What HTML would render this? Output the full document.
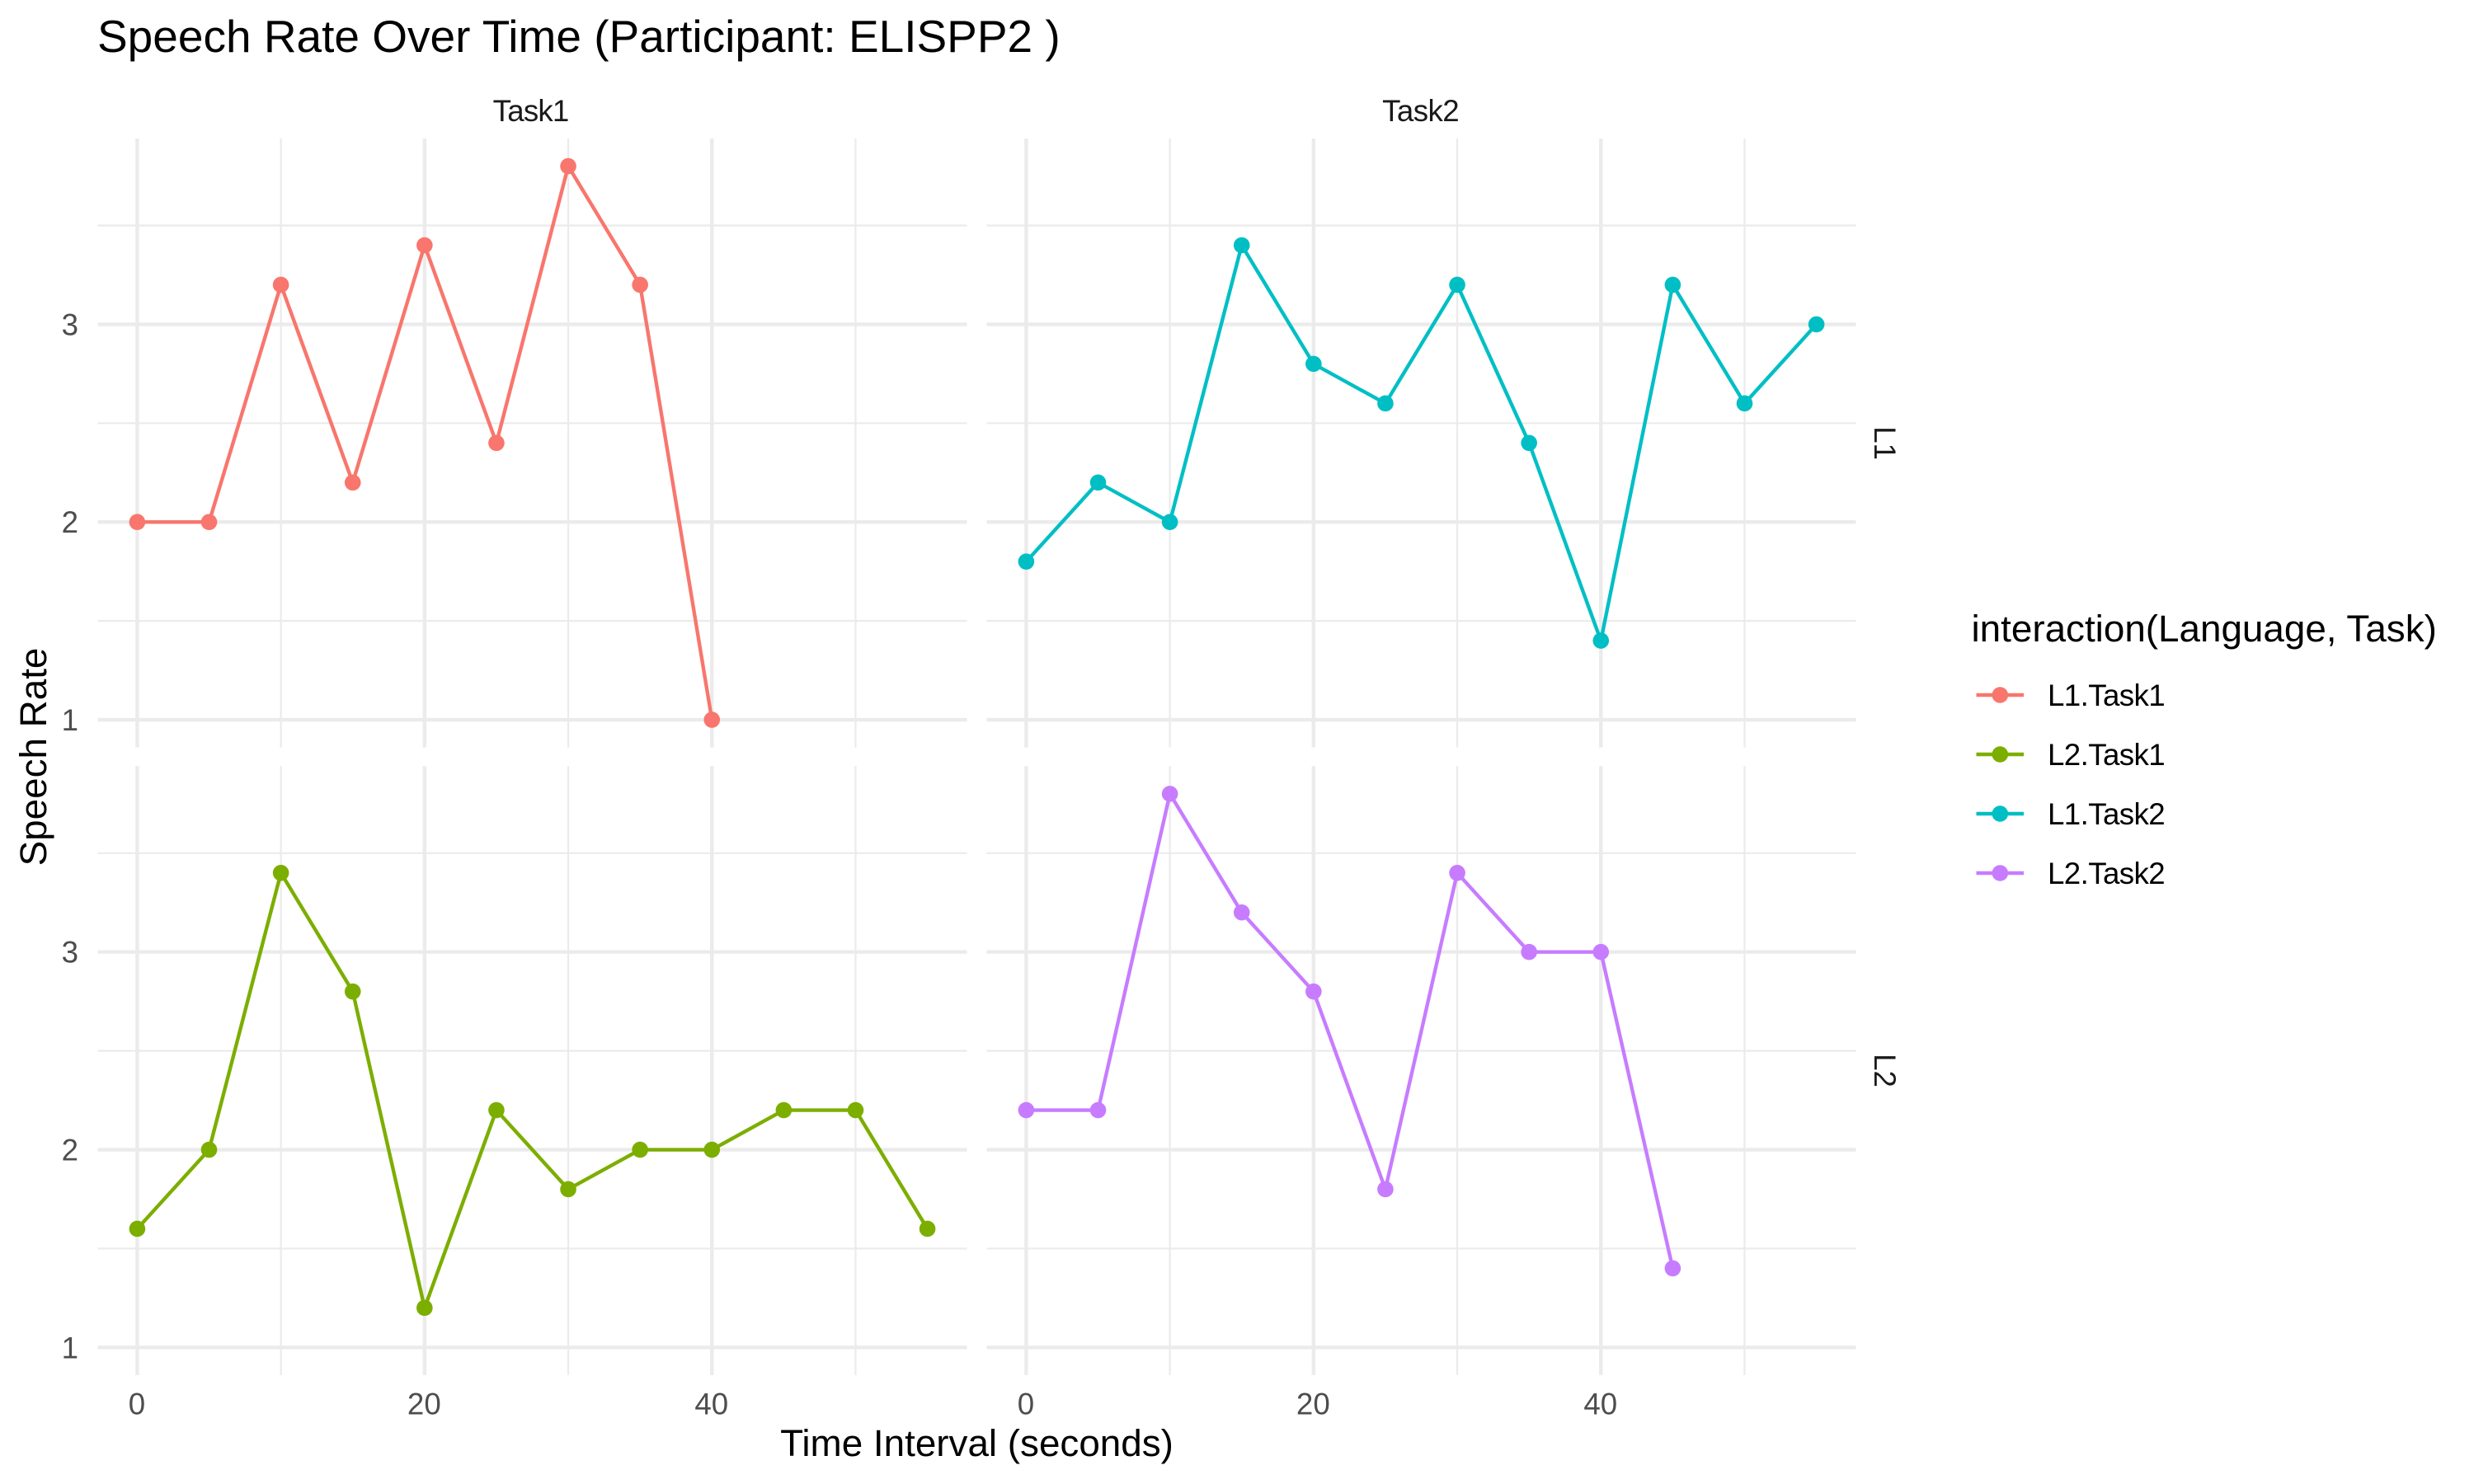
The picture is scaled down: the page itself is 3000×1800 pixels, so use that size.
<!DOCTYPE html>
<html lang="en">
<head>
<meta charset="utf-8">
<title>Speech Rate Over Time</title>
<style>
html,body{margin:0;padding:0;background:#fff;}
body{width:3000px;height:1800px;overflow:hidden;}
svg{display:block;}
text{font-family:"Liberation Sans",Arial,sans-serif;}
</style>
</head>
<body>
<svg id="chart" xmlns="http://www.w3.org/2000/svg" width="3000" height="1800" viewBox="0 0 3000 1800">
  <rect x="0" y="0" width="3000" height="1800" fill="#ffffff"/>
  <text x="118" y="63" font-size="55" fill="#000">Speech Rate Over Time (Participant: ELISPP2 )</text>
  <text x="643.6" y="147" font-size="36.7" letter-spacing="-0.8" fill="#1A1A1A" text-anchor="middle">Task1</text>
  <text x="1722.6" y="147" font-size="36.7" letter-spacing="-0.6" fill="#1A1A1A" text-anchor="middle">Task2</text>
  <text transform="translate(2273 537.5) rotate(90)" font-size="36.7" fill="#1A1A1A" text-anchor="middle">L1</text>
  <text transform="translate(2273 1298.5) rotate(90)" font-size="36.7" fill="#1A1A1A" text-anchor="middle">L2</text>
  <text x="1184.5" y="1766" font-size="45.8" fill="#000" text-anchor="middle">Time Interval (seconds)</text>
  <text transform="translate(56 918) rotate(-90)" font-size="45.8" fill="#000" text-anchor="middle">Speech Rate</text>
  <text x="2390.5" y="778" font-size="45.8" fill="#000">interaction(Language, Task)</text>
  <g id="panels"></g>
  <g id="legend"></g>
</svg>
<script>
// Data
const legendLabels = ['L1.Task1', 'L2.Task1', 'L1.Task2', 'L2.Task2'];
const seriesColors = ['#F8766D', '#7CAE00', '#00BFC4', '#C77CFF'];
const timeL1Task1 = [0, 5, 10, 15, 20, 25, 30, 35, 40];
const rateL1Task1 = [2, 2, 3.2, 2.2, 3.4, 2.4, 3.8, 3.2, 1];
const timeL2Task1 = [0, 5, 10, 15, 20, 25, 30, 35, 40, 45, 50, 55];
const rateL2Task1 = [1.6, 2, 3.4, 2.8, 1.2, 2.2, 1.8, 2, 2, 2.2, 2.2, 1.6];
const timeL1Task2 = [0, 5, 10, 15, 20, 25, 30, 35, 40, 45, 50, 55];
const rateL1Task2 = [1.8, 2.2, 2, 3.4, 2.8, 2.6, 3.2, 2.4, 1.4, 3.2, 2.6, 3];
const timeL2Task2 = [0, 5, 10, 15, 20, 25, 30, 35, 40, 45];
const rateL2Task2 = [2.2, 2.2, 3.8, 3.2, 2.8, 1.8, 3.4, 3, 3, 1.4];
const xMajorTicks = [0, 20, 40];
const xMinorTicks = [10, 30, 50];
const yMajorTicks = [1, 2, 3];
const yMinorTicks = [1.5, 2.5, 3.5];

const SVGNS = 'http://www.w3.org/2000/svg';
const X_DOMAIN = [-2.75, 57.75];
const Y_DOMAIN = [0.86, 3.94];
const PANEL_W = 1054;
const PANEL_H = 738.6;
const COL_LEFT = [118.5, 1196.5];
const ROW_TOP = [168, 929.3];
const panelDefs = [
  {key: 'l1-task1', col: 0, row: 0, series: 0, t: timeL1Task1, v: rateL1Task1},
  {key: 'l1-task2', col: 1, row: 0, series: 2, t: timeL1Task2, v: rateL1Task2},
  {key: 'l2-task1', col: 0, row: 1, series: 1, t: timeL2Task1, v: rateL2Task1},
  {key: 'l2-task2', col: 1, row: 1, series: 3, t: timeL2Task2, v: rateL2Task2}
];

function xScale(col, t) {
  return COL_LEFT[col] + (t - X_DOMAIN[0]) / (X_DOMAIN[1] - X_DOMAIN[0]) * PANEL_W;
}
function yScale(row, v) {
  return ROW_TOP[row] + PANEL_H - (v - Y_DOMAIN[0]) / (Y_DOMAIN[1] - Y_DOMAIN[0]) * PANEL_H;
}
function mk(tag, attrs, parent) {
  const node = document.createElementNS(SVGNS, tag);
  for (const k in attrs) node.setAttribute(k, attrs[k]);
  parent.appendChild(node);
  return node;
}

const panelsRoot = document.getElementById('panels');

panelDefs.forEach(function (p) {
  const g = mk('g', {}, panelsRoot);
  
  
  const left = COL_LEFT[p.col];
  const top = ROW_TOP[p.row];

  yMinorTicks.forEach(function (v) {
    const el = mk('line', {x1: left, x2: left + PANEL_W, y1: yScale(p.row, v), y2: yScale(p.row, v), stroke: '#EBEBEB', 'stroke-width': 2.2}, g);
    
    
  });
  xMinorTicks.forEach(function (t) {
    const el = mk('line', {x1: xScale(p.col, t), x2: xScale(p.col, t), y1: top, y2: top + PANEL_H, stroke: '#EBEBEB', 'stroke-width': 2.2}, g);
    
    
  });
  yMajorTicks.forEach(function (v) {
    const el = mk('line', {x1: left, x2: left + PANEL_W, y1: yScale(p.row, v), y2: yScale(p.row, v), stroke: '#EBEBEB', 'stroke-width': 4.4}, g);
    
    
  });
  xMajorTicks.forEach(function (t) {
    const el = mk('line', {x1: xScale(p.col, t), x2: xScale(p.col, t), y1: top, y2: top + PANEL_H, stroke: '#EBEBEB', 'stroke-width': 4.4}, g);
    
    
  });

  if (p.col === 0) {
    yMajorTicks.forEach(function (v) {
      const el = mk('text', {x: 95, y: yScale(p.row, v) + 13, 'font-size': 36.7, fill: '#4D4D4D', 'text-anchor': 'end'}, g);
      el.textContent = String(v);
      
      
    });
  }
  if (p.row === 1) {
    xMajorTicks.forEach(function (t) {
      const el = mk('text', {x: xScale(p.col, t) - 0.5, y: 1715.5, 'font-size': 36.7, fill: '#4D4D4D', 'text-anchor': 'middle'}, g);
      el.textContent = String(t);
      
      
    });
  }

  const pts = p.t.map(function (t, i) {
    return xScale(p.col, t).toFixed(2) + ',' + yScale(p.row, p.v[i]).toFixed(2);
  }).join(' ');
  const line = mk('polyline', {points: pts, fill: 'none', stroke: seriesColors[p.series], 'stroke-width': 4.4, 'stroke-linejoin': 'round', 'stroke-linecap': 'butt'}, g);
  
  

  p.t.forEach(function (t, i) {
    const dot = mk('circle', {cx: xScale(p.col, t), cy: yScale(p.row, p.v[i]), r: 9.8, fill: seriesColors[p.series]}, g);
    
    
  });
});

const legendRoot = document.getElementById('legend');
legendLabels.forEach(function (label, i) {
  const cy = 843 + i * 72;
  const entry = mk('g', {}, legendRoot);
  
  
  const keyLine = mk('line', {x1: 2396.5, x2: 2454, y1: cy, y2: cy, stroke: seriesColors[i], 'stroke-width': 4.4}, entry);
  
  
  const keyDot = mk('circle', {cx: 2425.3, cy: cy, r: 9.8, fill: seriesColors[i]}, entry);
  
  
  const keyText = mk('text', {x: 2483, y: cy + 13, 'font-size': 36.7, 'letter-spacing': -0.6, fill: '#000'}, entry);
  keyText.textContent = label;
  
  
});
</script>
</body>
</html>
